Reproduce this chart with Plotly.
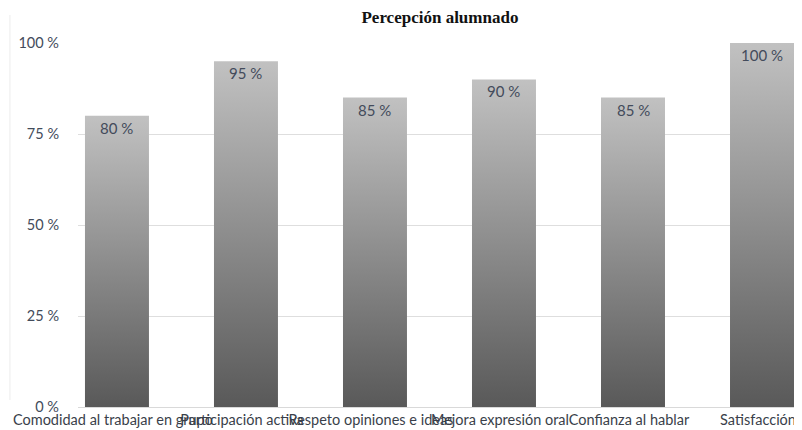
import plotly.graph_objects as go

categories = ["Comodidad al trabajar en grupo", "Participación activa",
              "Respeto opiniones e ideas", "Mejora expresión oral",
              "Confianza al hablar", "Satisfacción"]
values = [0.80, 0.95, 0.85, 0.90, 0.85, 1.00]
value_labels = ["80 %", "95 %", "85 %", "90 %", "85 %", "100 %"]
y_ticks = [0, 0.25, 0.5, 0.75, 1.0]
y_tick_labels = ["0 %", "25 %", "50 %", "75 %", "100 %"]

bar_half = 0.248
fig = go.Figure()
for i, v in enumerate(values):
    fig.add_trace(go.Scatter(
        x=[i - bar_half, i + bar_half, i + bar_half, i - bar_half, i - bar_half],
        y=[0, 0, v, v, 0],
        mode="lines", line=dict(width=0), fill="toself",
        fillgradient=dict(type="vertical", start=0, stop=v,
                          colorscale=[[0, "#595959"], [1, "#c1c1c1"]]),
        hoverinfo="skip", showlegend=False))

for i, (v, t) in enumerate(zip(values, value_labels)):
    fig.add_annotation(x=i, y=v, text=t, showarrow=False, yanchor="middle",
                       yshift=-12,
                       font=dict(family="Lato", size=15, color="#434b5b"))

fig.add_shape(type="line", xref="paper", yref="paper",
              x0=-0.094, x1=-0.094, y0=0.019, y1=1.077,
              line=dict(color="#ececec", width=1))

fig.update_layout(
    width=794, height=422,
    margin=dict(l=70, r=0, t=35, b=23, autoexpand=False),
    paper_bgcolor="white", plot_bgcolor="white",
    font=dict(family="Lato", size=14, color="#434b5b"),
    title=dict(text="<b>Percepción alumnado</b>", x=0.544, xanchor="center",
               y=0.979, yanchor="middle", yref="container",
               font=dict(family="Liberation Serif", size=17, color="#111111")),
    xaxis=dict(range=[-0.302, 5.31], tickvals=list(range(len(categories))),
               ticktext=categories, tickangle=0, showgrid=False,
               zeroline=False, showline=True, linecolor="#d9d9d9",
               tickfont=dict(family="Lato", size=14.5, color="#3a3f4a"),
               ticks="", ticklabelstandoff=0, ticklabelshift=-4,
               ticklabeloverflow="allow", automargin=False),
    yaxis=dict(range=[0, 1.0], tickvals=y_ticks, ticktext=y_tick_labels,
               showgrid=True, gridcolor="#dedede", zeroline=False,
               showline=False, ticks="", ticklabelstandoff=18,
               automargin=False,
               tickfont=dict(family="Lato", size=14.5, color="#434b5b")),
)

fig.write_html("out.html")
